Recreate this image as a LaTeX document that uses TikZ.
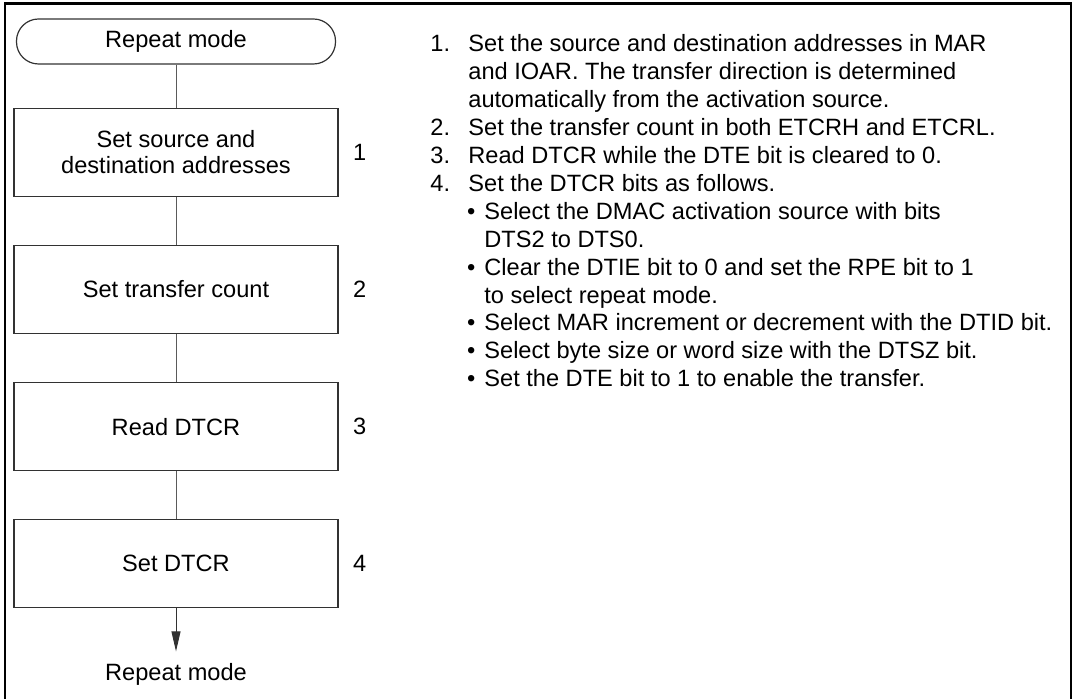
\documentclass[tikz,border=0pt]{standalone}
\usepackage{fontspec}
\setmainfont{Liberation Sans}
\usepackage{tikz}
\usetikzlibrary{arrows.meta,positioning}
\definecolor{figline}{RGB}{50,50,50}
\definecolor{figlink}{RGB}{90,90,90}
\newcommand{\listno}[1]{\makebox[19pt][l]{#1}}
\newcommand{\listbul}{\makebox[27pt][r]{\textbullet\hspace{4.5pt}}}
\newcommand{\listcont}[1][19pt]{\hspace*{#1}}

\begin{document}
\begin{tikzpicture}[
  x=0.5pt, y=-0.5pt,
  font=\fontsize{11.8}{13}\selectfont,
  term/.style={draw=figline, line width=0.6pt, rounded corners=11pt,
    minimum width=159.5pt, minimum height=22.5pt, inner sep=0pt},
  proc/.style={draw=figline, line width=0.6pt, align=center,
    minimum width=162pt, minimum height=44pt, inner sep=2pt},
  num/.style={inner sep=0pt},
  link/.style={figlink, line width=0.5pt},
  arr/.style={-{Triangle[length=10pt,width=4.5pt]}, figline, line width=0.5pt}]
  \useasboundingbox (0,0) rectangle (1075,699);
  \draw[line width=1.4pt] (5,3.3) rectangle (1071,705);
  % flow on the left
  \node[term] (start) at (176,41.5) {Repeat mode};
  \node[proc, below=21.5pt of start] (b1) {Set source and\\destination addresses};
  \node[proc, below=24pt of b1] (b2) {Set transfer count};
  \node[proc, below=24pt of b2] (b3) {Read DTCR};
  \node[proc, below=24pt of b3] (b4) {Set DTCR};
  \node[below=21.5pt of b4, inner sep=6pt] (stop) {Repeat mode};
  \node[num, right=7pt of b1] (n1) {1};
  \node[num, right=7pt of b2] (n2) {2};
  \node[num, right=7pt of b3] (n3) {3};
  \node[num, right=7pt of b4] (n4) {4};
  \draw[link] (start) -- (b1);
  \draw[link] (b1) -- (b2);
  \draw[link] (b2) -- (b3);
  \draw[link] (b3) -- (b4);
  \draw[arr] (b4) -- (stop);
  % notes on the right
  \node[anchor=north west, inner sep=0pt, align=left,
    font=\fontsize{11.8}{13.95}\selectfont] (notes) at (430,34.5) {%
    \listno{1.}Set the source and destination addresses in MAR\\
    \listcont and IOAR. The transfer direction is determined\\
    \listcont automatically from the activation source.\\
    \listno{2.}Set the transfer count in both ETCRH and ETCRL.\\
    \listno{3.}Read DTCR while the DTE bit is cleared to 0.\\
    \listno{4.}Set the DTCR bits as follows.\\
    \listbul Select the DMAC activation source with bits\\
    \listcont[27pt]DTS2 to DTS0.\\
    \listbul Clear the DTIE bit to 0 and set the RPE bit to 1\\
    \listcont[27pt]to select repeat mode.\\
    \listbul Select MAR increment or decrement with the DTID bit.\\
    \listbul Select byte size or word size with the DTSZ bit.\\
    \listbul Set the DTE bit to 1 to enable the transfer.};
\end{tikzpicture}
\end{document}
